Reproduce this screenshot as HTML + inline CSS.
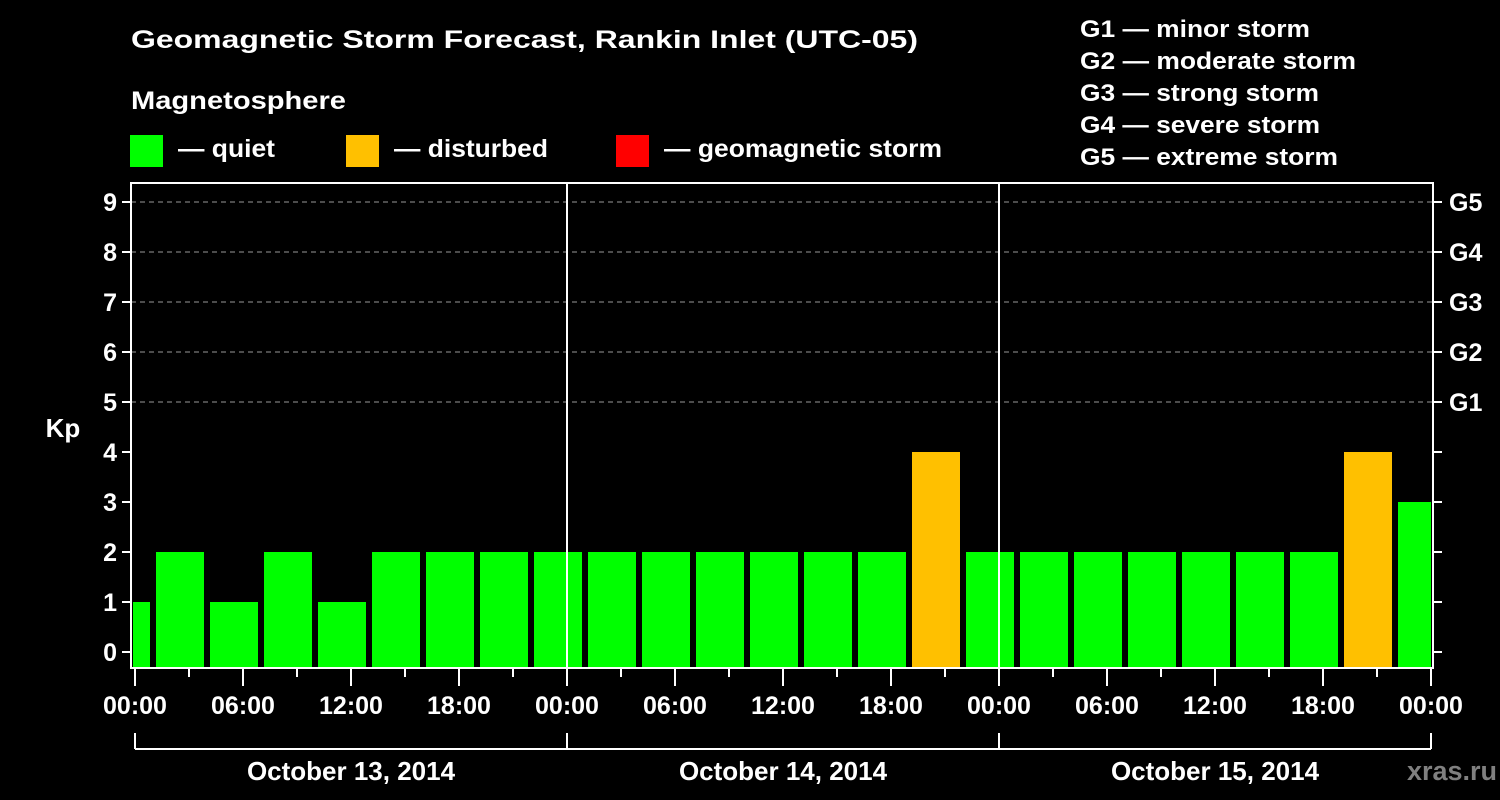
<!DOCTYPE html>
<html><head><meta charset="utf-8"><style>
html,body{margin:0;padding:0;background:#000;}
svg{display:block;font-family:"Liberation Sans",Arial,sans-serif;font-weight:bold;}
</style></head><body>
<svg id="chart" width="1500" height="800" viewBox="0 0 1500 800" xmlns="http://www.w3.org/2000/svg">
<rect width="1500" height="800" fill="#000"/>
<text x="131" y="48" fill="#fff" font-size="25" textLength="787" lengthAdjust="spacingAndGlyphs">Geomagnetic Storm Forecast, Rankin Inlet (UTC-05)</text>
<text x="131" y="109" fill="#fff" font-size="25" textLength="215" lengthAdjust="spacingAndGlyphs">Magnetosphere</text>
<g>
<rect x="130" y="135" width="33" height="32" fill="#00ff00"/>
<text x="178" y="157" fill="#fff" font-size="25" textLength="97" lengthAdjust="spacingAndGlyphs">— quiet</text></g>
<g>
<rect x="346" y="135" width="33" height="32" fill="#ffc000"/>
<text x="394" y="157" fill="#fff" font-size="25" textLength="154" lengthAdjust="spacingAndGlyphs">— disturbed</text></g>
<g>
<rect x="616" y="135" width="33" height="32" fill="#ff0000"/>
<text x="664" y="157" fill="#fff" font-size="25" textLength="278" lengthAdjust="spacingAndGlyphs">— geomagnetic storm</text></g>
<g fill="#fff" font-size="24">
<text x="1080" y="37" textLength="230" lengthAdjust="spacingAndGlyphs">G1 — minor storm</text>
<text x="1080" y="69" textLength="276" lengthAdjust="spacingAndGlyphs">G2 — moderate storm</text>
<text x="1080" y="101" textLength="239" lengthAdjust="spacingAndGlyphs">G3 — strong storm</text>
<text x="1080" y="133" textLength="240" lengthAdjust="spacingAndGlyphs">G4 — severe storm</text>
<text x="1080" y="165" textLength="258" lengthAdjust="spacingAndGlyphs">G5 — extreme storm</text>
</g>
<text x="63" y="437" fill="#fff" font-size="26" text-anchor="middle">Kp</text>
<text x="1497" y="780" fill="#808080" font-size="27" text-anchor="end">xras.ru</text>
<g id="grid"></g>
<g id="bars"></g>
<g id="axes"></g>
</svg>
<script>
const kpValues = [1,2,1,2,1,2,2,2,2,2,2,2,2,2,2,4,2,2,2,2,2,2,2,4,3];
const barStartHours = -2; // first bar begins 22:00 on previous day
const yTicks = [0,1,2,3,4,5,6,7,8,9];
const gLabels = ["G1","G2","G3","G4","G5"];
const gLevels = [5,6,7,8,9];
const xTickLabels = ["00:00","06:00","12:00","18:00","00:00","06:00","12:00","18:00","00:00","06:00","12:00","18:00","00:00"];
const dayLabels = ["October 13, 2014","October 14, 2014","October 15, 2014"];

const NS = "http://www.w3.org/2000/svg";
const PL = 131, PR = 1433, PT = 183, PB = 668;
const x = h => 135 + h * 18;
const y = v => 652 - v * 50;
function mk(tag, attrs, parent, text) {
  const e = document.createElementNS(NS, tag);
  for (const k in attrs) e.setAttribute(k, attrs[k]);
  if (text !== undefined) e.textContent = text;
  parent.appendChild(e);
  return e;
}
const grid = document.getElementById('grid');
const bars = document.getElementById('bars');
const axes = document.getElementById('axes');

// clip
const defs = mk('defs', {}, grid);
const cp = mk('clipPath', {id: 'plotclip'}, defs);
mk('rect', {x: PL + 2, y: PT, width: PR - PL - 4, height: PB - PT}, cp);
bars.setAttribute('clip-path', 'url(#plotclip)');

// gridlines
yTicks.forEach(v => {
  if (v >= 5) {
    const l = mk('line', {x1: PL, x2: PR, y1: y(v), y2: y(v), stroke: '#999', 'stroke-width': 1, 'stroke-dasharray': '5,4'}, grid);
    
    
  }
});

// bars
kpValues.forEach((v, i) => {
  const h0 = barStartHours + i * 3;
  const r = mk('rect', {x: x(h0) + 3, y: y(v), width: 48, height: PB - y(v), fill: v >= 5 ? '#ff0000' : (v >= 4 ? '#ffc000' : '#00ff00')}, bars);
  
  
});

// day dividers
[24, 48].forEach(h => {
  const l = mk('line', {x1: x(h), x2: x(h), y1: PT, y2: PB, stroke: '#fff', 'stroke-width': 2}, axes);
  
  
});

// frame
const fr = mk('rect', {x: PL, y: PT, width: PR - PL, height: PB - PT, fill: 'none', stroke: '#fff', 'stroke-width': 2}, axes);



// y ticks + labels
yTicks.forEach(v => {
  mk('line', {x1: PL - 9, x2: PL, y1: y(v), y2: y(v), stroke: '#fff', 'stroke-width': 2}, axes);
  mk('line', {x1: PR, x2: PR + 9, y1: y(v), y2: y(v), stroke: '#fff', 'stroke-width': 2}, axes);
  const t = mk('text', {x: 117, y: y(v) + 9, fill: '#fff', 'font-size': 25, 'text-anchor': 'end'}, axes, String(v));
  
  
});
gLabels.forEach((g, i) => {
  const t = mk('text', {x: 1449, y: y(gLevels[i]) + 9, fill: '#fff', 'font-size': 25}, axes, g);
  
  
});

// x ticks
for (let h = 0; h <= 72; h += 3) {
  const major = h % 6 === 0;
  mk('line', {x1: x(h), x2: x(h), y1: PB, y2: PB + (major ? 18 : 9), stroke: '#fff', 'stroke-width': 2}, axes);
}
xTickLabels.forEach((s, i) => {
  const t = mk('text', {x: x(i * 6), y: 714, fill: '#fff', 'font-size': 25, 'text-anchor': 'middle'}, axes, s);
  
  
});

// day bracket
mk('line', {x1: x(0), x2: x(72), y1: 749, y2: 749, stroke: '#fff', 'stroke-width': 2}, axes);
[0, 24, 48, 72].forEach(h => mk('line', {x1: x(h), x2: x(h), y1: 733, y2: 749, stroke: '#fff', 'stroke-width': 2}, axes));
dayLabels.forEach((s, i) => {
  const t = mk('text', {x: x(i * 24 + 12), y: 780, fill: '#fff', 'font-size': 26, 'text-anchor': 'middle'}, axes, s);
  
  
});
</script>
</body></html>
